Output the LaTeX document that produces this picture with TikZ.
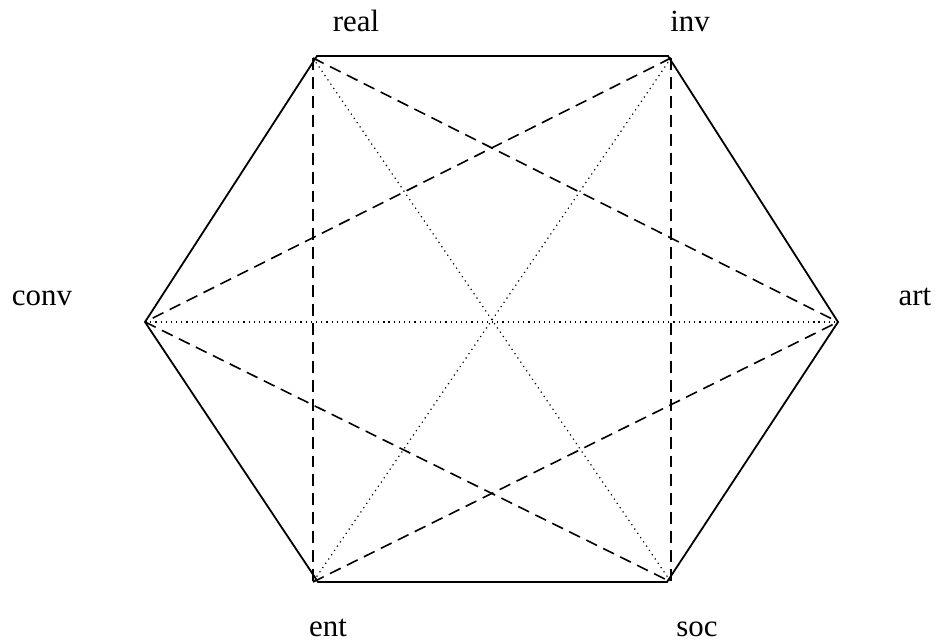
\documentclass[tikz,border=0pt]{standalone}
\usepackage{fontspec}
\setmainfont{Liberation Serif}
\usetikzlibrary{positioning}
\begin{document}
\begin{tikzpicture}[x=0.5bp,y=-0.5bp,line cap=butt,
  side/.style={line width=0.9pt},
  chord/.style={line width=0.8pt,dash pattern=on 6pt off 3.5pt},
  diag/.style={line width=0.6pt,dotted},
  lbl/.style={font=\fontsize{15.5}{18}\selectfont,inner sep=0pt,anchor=base}]
\useasboundingbox (0,0) rectangle (935,640);
\coordinate (real) at (313,58); \coordinate (inv) at (671,58); \coordinate (art) at (838,322);
\coordinate (soc) at (671,582); \coordinate (ent) at (313,582); \coordinate (conv) at (145,322);
\coordinate (hreal) at (317,56); \coordinate (hinv) at (668,56);
\coordinate (hsoc) at (667,582); \coordinate (hent) at (318,582);
% hexagon
\draw[side,line join=miter] (hreal)--(hinv)--(art)--(hsoc)--(hent)--(conv)--cycle;
% dashed chords
\draw[chord] (real)--(ent); \draw[chord] (inv)--(soc);
\draw[chord] (real)--(art); \draw[chord] (inv)--(conv);
\draw[chord] (conv)--(soc); \draw[chord] (ent)--(art);
% dotted diagonals
\draw[diag] (real)--(soc); \draw[diag] (inv)--(ent); \draw[diag] (conv)--(art);
% labels
\node[lbl] (lreal) at (356,32) {real}; \node[lbl] (linv) at (690,32) {inv};
\node[lbl] (lconv) at (42,305) {conv}; \node[lbl] (lart) at (915,305) {art};
\node[lbl] (lent) at (328,636) {ent}; \node[lbl] (lsoc) at (697,636) {soc};
\end{tikzpicture}
\end{document}
